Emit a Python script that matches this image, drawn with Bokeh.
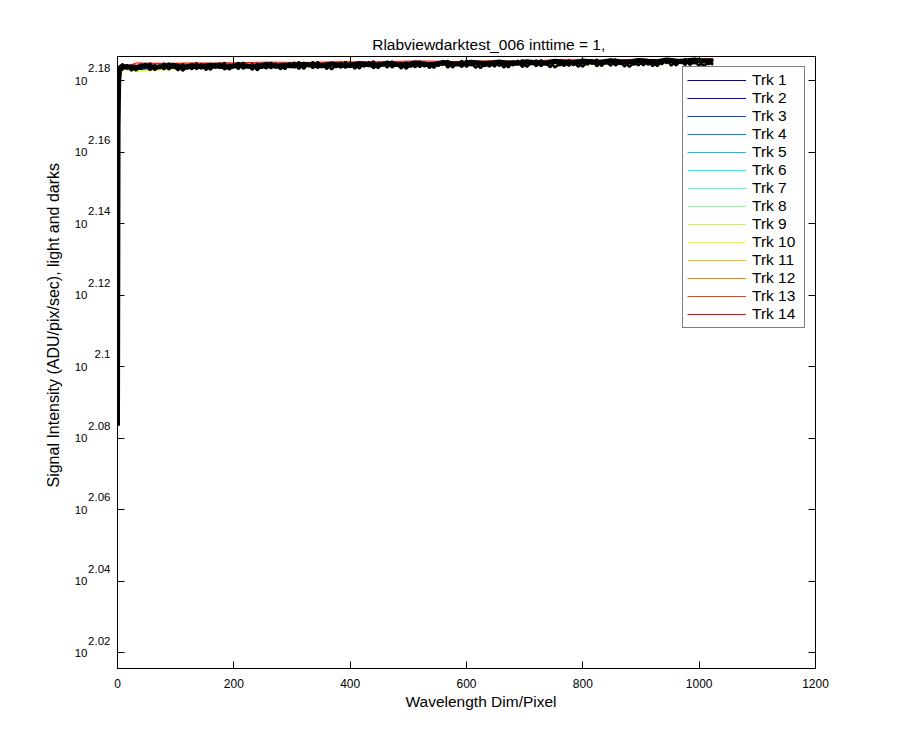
from bokeh.plotting import figure
from bokeh.models import (Range1d, FixedTicker, LinearAxis, LogAxis, LogScale,
                          Legend, LegendItem, Title)
from bokeh.embed import file_html
from bokeh.resources import INLINE

# ---------------- data ----------------
title_text = "Rlabviewdarktest_006 inttime = 1,"
x_label = "Wavelength Dim/Pixel"
y_label = "Signal Intensity (ADU/pix/sec), light and darks"

x_ticks = [0, 200, 400, 600, 800, 1000, 1200]
y_tick_exponents = [2.02, 2.04, 2.06, 2.08, 2.10, 2.12, 2.14, 2.16, 2.18]
y_tick_texts = ["2.02", "2.04", "2.06", "2.08", "2.1", "2.12", "2.14", "2.16", "2.18"]

track_names = ["Trk %d" % i for i in range(1, 15)]
track_colors = ["#0000bf", "#0000ff", "#0040ff", "#0080ff", "#00bfff", "#00ffff",
                "#40ffbf", "#80ff80", "#bfff40", "#ffff00", "#ffbf00", "#ff8000",
                "#ff4000", "#ff0000"]

# light tracks, sampled at these pixels
light_pixel = [0, 1, 2, 3, 4, 5, 32, 128, 256, 384, 512, 640, 768, 896, 1024]
trk1 = [121.3, 145.8, 150.7, 151.8, 152.3, 152.5, 152.40, 152.80, 152.60, 152.95, 152.75, 153.10, 152.90, 153.20, 153.05]
trk2 = [121.2, 146.1, 150.9, 151.9, 152.2, 152.6, 152.75, 152.55, 152.90, 152.70, 153.05, 152.85, 153.15, 152.95, 153.25]
trk3 = [121.4, 145.9, 150.8, 152.0, 152.3, 152.4, 152.55, 152.85, 152.65, 152.98, 152.80, 153.08, 152.95, 153.22, 153.00]
trk4 = [121.3, 146.2, 150.6, 151.8, 152.4, 152.5, 152.80, 152.60, 152.92, 152.72, 153.02, 152.88, 153.18, 152.98, 153.28]
trk5 = [121.3, 145.7, 150.9, 151.9, 152.3, 152.6, 152.50, 152.78, 152.58, 152.90, 152.70, 153.05, 152.86, 153.18, 152.96]
trk6 = [121.2, 146.0, 150.7, 152.0, 152.2, 152.5, 152.30, 152.62, 152.70, 152.76, 152.85, 152.92, 152.98, 153.02, 153.10]
trk7 = [121.4, 146.3, 150.8, 151.8, 152.3, 152.4, 152.72, 152.52, 152.88, 152.68, 153.00, 152.82, 153.12, 152.92, 153.20]
trk8 = [121.3, 145.9, 151.0, 151.9, 152.4, 152.6, 152.60, 152.88, 152.70, 152.96, 152.84, 153.10, 152.94, 153.24, 153.08]
trk9 = [121.2, 146.1, 150.6, 152.0, 152.3, 152.5, 152.25, 152.58, 152.66, 152.74, 152.80, 152.90, 152.96, 153.00, 153.06]
trk10 = [121.3, 145.8, 150.9, 151.8, 152.2, 152.6, 152.28, 152.55, 152.64, 152.72, 152.78, 152.86, 152.92, 152.98, 153.04]
trk11 = [121.4, 146.0, 150.7, 151.9, 152.4, 152.4, 152.70, 152.82, 152.76, 152.94, 152.88, 153.06, 153.00, 153.16, 153.14]
trk12 = [121.3, 146.2, 150.8, 152.0, 152.3, 152.5, 152.62, 152.74, 152.86, 152.82, 152.98, 152.94, 153.10, 153.08, 153.22]
trk13 = [121.2, 145.6, 150.9, 151.8, 152.3, 152.6, 152.95, 153.10, 153.02, 153.22, 153.12, 153.32, 153.20, 153.45, 153.34]
trk14 = [121.3, 146.1, 150.7, 151.9, 152.2, 152.5, 153.08, 152.98, 153.16, 153.08, 153.28, 153.16, 153.40, 153.30, 153.52]
light_tracks = [trk1, trk2, trk3, trk4, trk5, trk6, trk7, trk8, trk9, trk10,
                trk11, trk12, trk13, trk14]

# dark frames (drawn in black)
dark_pixel_fine = [0, 1, 2, 3, 4, 5] + list(range(8, 1025, 8))
dark_a = [121.3, 146.2, 150.9, 151.9, 152.3, 152.6,
          152.98, 152.50, 152.80, 152.33, 152.95, 152.62, 153.04, 152.38, 152.84, 152.44, 153.05, 152.58, 152.90, 152.30, 152.74, 152.46,
          153.06, 152.52, 152.86, 152.40, 152.98, 152.70, 153.10, 152.42, 152.92, 152.48, 153.12, 152.64, 152.96, 152.36, 152.80, 152.54,
          153.12, 152.60, 152.92, 152.46, 153.08, 152.74, 153.18, 152.50, 152.98, 152.56, 153.18, 152.70, 153.02, 152.44, 152.88, 152.60,
          153.18, 152.66, 152.98, 152.52, 153.12, 152.82, 153.24, 152.56, 153.04, 152.62, 153.24, 152.78, 153.08, 152.50, 152.92, 152.66,
          153.24, 152.72, 153.04, 152.58, 153.18, 152.88, 153.30, 152.62, 153.10, 152.68, 153.30, 152.84, 153.14, 152.56, 152.98, 152.72,
          153.30, 152.78, 153.10, 152.64, 153.24, 152.94, 153.36, 152.68, 153.16, 152.74, 153.36, 152.90, 153.20, 152.62, 153.04, 152.78,
          153.36, 152.84, 153.16, 152.70, 153.30, 153.00, 153.42, 152.76, 153.22, 152.80, 153.44, 152.96, 153.26, 152.68, 153.12, 152.84,
          153.42, 152.90, 153.22, 152.76, 153.36, 153.06, 153.48, 152.82, 153.28, 152.86, 153.50, 153.02, 153.32, 152.74, 153.18, 152.90]
dark_b = [121.4, 145.6, 150.5, 151.7, 152.2, 152.5,
          152.40, 152.90, 152.32, 152.76, 152.53, 153.00, 152.36, 152.86, 152.62, 153.04, 152.44, 152.80, 152.34, 152.96, 152.50, 152.98,
          152.46, 152.96, 152.38, 152.82, 152.59, 153.06, 152.42, 152.92, 152.68, 153.10, 152.50, 152.86, 152.40, 153.02, 152.56, 153.04,
          152.53, 153.03, 152.45, 152.89, 152.66, 153.13, 152.49, 152.99, 152.75, 153.17, 152.57, 152.93, 152.47, 153.09, 152.63, 153.11,
          152.59, 153.09, 152.51, 152.95, 152.72, 153.19, 152.55, 153.05, 152.81, 153.23, 152.63, 152.99, 152.53, 153.15, 152.69, 153.17,
          152.65, 153.15, 152.57, 153.01, 152.78, 153.25, 152.61, 153.11, 152.87, 153.29, 152.69, 153.05, 152.59, 153.21, 152.75, 153.23,
          152.71, 153.21, 152.63, 153.07, 152.84, 153.31, 152.67, 153.17, 152.93, 153.35, 152.75, 153.11, 152.65, 153.27, 152.81, 153.29,
          152.78, 153.28, 152.70, 153.14, 152.91, 153.38, 152.74, 153.24, 153.00, 153.42, 152.82, 153.18, 152.72, 153.34, 152.88, 153.36,
          152.84, 153.34, 152.76, 153.20, 152.97, 153.44, 152.80, 153.30, 153.06, 153.48, 152.88, 153.24, 152.78, 153.40, 152.94, 153.42]
dark_pixel = [0, 1, 2, 3, 4, 5] + list(range(16, 1025, 16))
dark_c = [121.2, 146.8, 151.1, 152.0, 152.4, 152.7,
          152.70, 152.62, 152.80, 152.64, 152.74, 152.84, 152.66, 152.78, 152.70, 152.86,
          152.72, 152.68, 152.88, 152.76, 152.72, 152.92, 152.76, 152.84, 152.78, 152.96,
          152.84, 152.80, 152.98, 152.86, 152.82, 153.02, 152.90, 152.86, 153.06, 152.92,
          152.90, 153.08, 152.96, 152.92, 153.12, 153.00, 152.96, 153.14, 153.04, 153.00,
          153.18, 153.06, 153.04, 153.20, 153.10, 153.08, 153.24, 153.14, 153.10, 153.26,
          153.16, 153.14, 153.30, 153.20, 153.18, 153.32, 153.24, 153.20, 153.36, 153.26,
          153.24, 153.38, 153.28, 153.26]

# ---------------- layout ----------------
W, H = 884, 734
FL, FR, FT, FB = 117, 815, 56, 668           # frame edges in pixels
X0, X1 = 0, 1200
L0, L1 = 2.01562, 2.18671                    # log10 limits of the y axis
EXP_SHIFT = 12.3                             # exponent raised by this many px
FONT = "Liberation Sans"

dl = EXP_SHIFT / (FB - FT) * (L1 - L0)

p = figure(width=W, height=H, x_range=Range1d(X0, X1),
           y_range=Range1d(10 ** L0, 10 ** L1), y_axis_type="log",
           extra_y_ranges={"exp": Range1d(10 ** (L0 - dl), 10 ** (L1 - dl))},
           extra_y_scales={"exp": LogScale()},
           output_backend="svg", toolbar_location=None,
           min_border_left=FL, min_border_right=W - FR,
           min_border_top=FT, min_border_bottom=H - FB)
p.grid.visible = False
p.outline_line_color = "black"
p.outline_line_width = 1
p.background_fill_color = "white"
p.border_fill_color = "white"

p.title.text = title_text
p.title.align = "left"
p.title.offset = 254.7
p.title.text_font = FONT
p.title.text_font_size = "15.5px"
p.title.text_font_style = "normal"
p.title.text_color = "black"
p.title.standoff = 7

y_tick_values = [10 ** e for e in y_tick_exponents]

# frame axes with inward ticks
p.xaxis.ticker = FixedTicker(ticks=x_ticks)
p.yaxis.ticker = FixedTicker(ticks=y_tick_values)
p.yaxis.major_label_overrides = {v: "" for v in y_tick_values}
p.yaxis.major_label_standoff = 0
for ax in [p.xaxis[0], p.yaxis[0]]:
    ax.major_tick_in = 7
    ax.major_tick_out = 0
    ax.minor_tick_line_color = None
    ax.axis_line_color = "black"
    ax.major_tick_line_color = "black"
p.xaxis.major_label_text_font = FONT
p.xaxis.major_label_text_font_size = "12px"
p.xaxis.major_label_text_color = "black"
p.xaxis.major_label_standoff = 10

top_ax = LinearAxis(ticker=FixedTicker(ticks=x_ticks),
                    major_label_overrides={v: "" for v in x_ticks},
                    major_label_standoff=0,
                    major_tick_in=7, major_tick_out=0, minor_tick_line_color=None,
                    axis_line_color="black")
right_ax = LogAxis(ticker=FixedTicker(ticks=y_tick_values),
                   major_label_overrides={v: "" for v in y_tick_values},
                   major_label_standoff=0,
                   major_tick_in=7, major_tick_out=0, minor_tick_line_color=None,
                   axis_line_color="black")
p.add_layout(top_ax, "above")
p.add_layout(right_ax, "right")

# y tick labels as "10" with a raised exponent: two label-only axes
exp_ax = LogAxis(y_range_name="exp", ticker=FixedTicker(ticks=y_tick_values),
                 major_label_overrides=dict(zip(y_tick_values, y_tick_texts)),
                 major_label_standoff=7, major_tick_in=0, major_tick_out=0,
                 major_tick_line_color=None, minor_tick_line_color=None,
                 axis_line_color=None, major_label_text_font=FONT,
                 major_label_text_font_size="11.5px",
                 major_label_text_color="black")
base_ax = LogAxis(ticker=FixedTicker(ticks=y_tick_values),
                  major_label_overrides={v: "10" for v in y_tick_values},
                  major_label_standoff=-2, major_tick_in=0, major_tick_out=0,
                  major_tick_line_color=None, minor_tick_line_color=None,
                  axis_line_color=None, major_label_text_font=FONT,
                  major_label_text_font_size="11.5px",
                  major_label_text_color="black")
p.add_layout(exp_ax, "left")
p.add_layout(base_ax, "left")

# axis labels as side titles, offset from the frame start
p.add_layout(Title(text=y_label, align="left", offset=181, standoff=19,
                   text_font=FONT, text_font_size="16px",
                   text_font_style="normal", text_color="black"), "left")
p.add_layout(Title(text=x_label, align="left", offset=288, standoff=0,
                   text_font=FONT, text_font_size="15.5px",
                   text_font_style="normal", text_color="black"), "below")

# light tracks
items = []
for name, col, vals in zip(track_names, track_colors, light_tracks):
    r = p.line(light_pixel, vals, line_color=col, line_width=1)
    items.append(LegendItem(label=name, renderers=[r]))

# dark tracks on top
p.line(dark_pixel, dark_c, line_color="black", line_width=5)
p.line(dark_pixel_fine, dark_a, line_color="black", line_width=2.5)
p.line(dark_pixel_fine, dark_b, line_color="black", line_width=2.5)

legend = Legend(items=items, location="top_right", margin=10, padding=4,
                spacing=0, glyph_width=59, glyph_height=18, label_height=18,
                label_width=48, label_standoff=6, label_text_font=FONT,
                label_text_font_size="15.5px", label_text_color="black",
                border_line_color="black", border_line_width=1,
                background_fill_color="white", background_fill_alpha=1)
p.add_layout(legend)

open("out.html", "w").write(file_html(p, INLINE))
